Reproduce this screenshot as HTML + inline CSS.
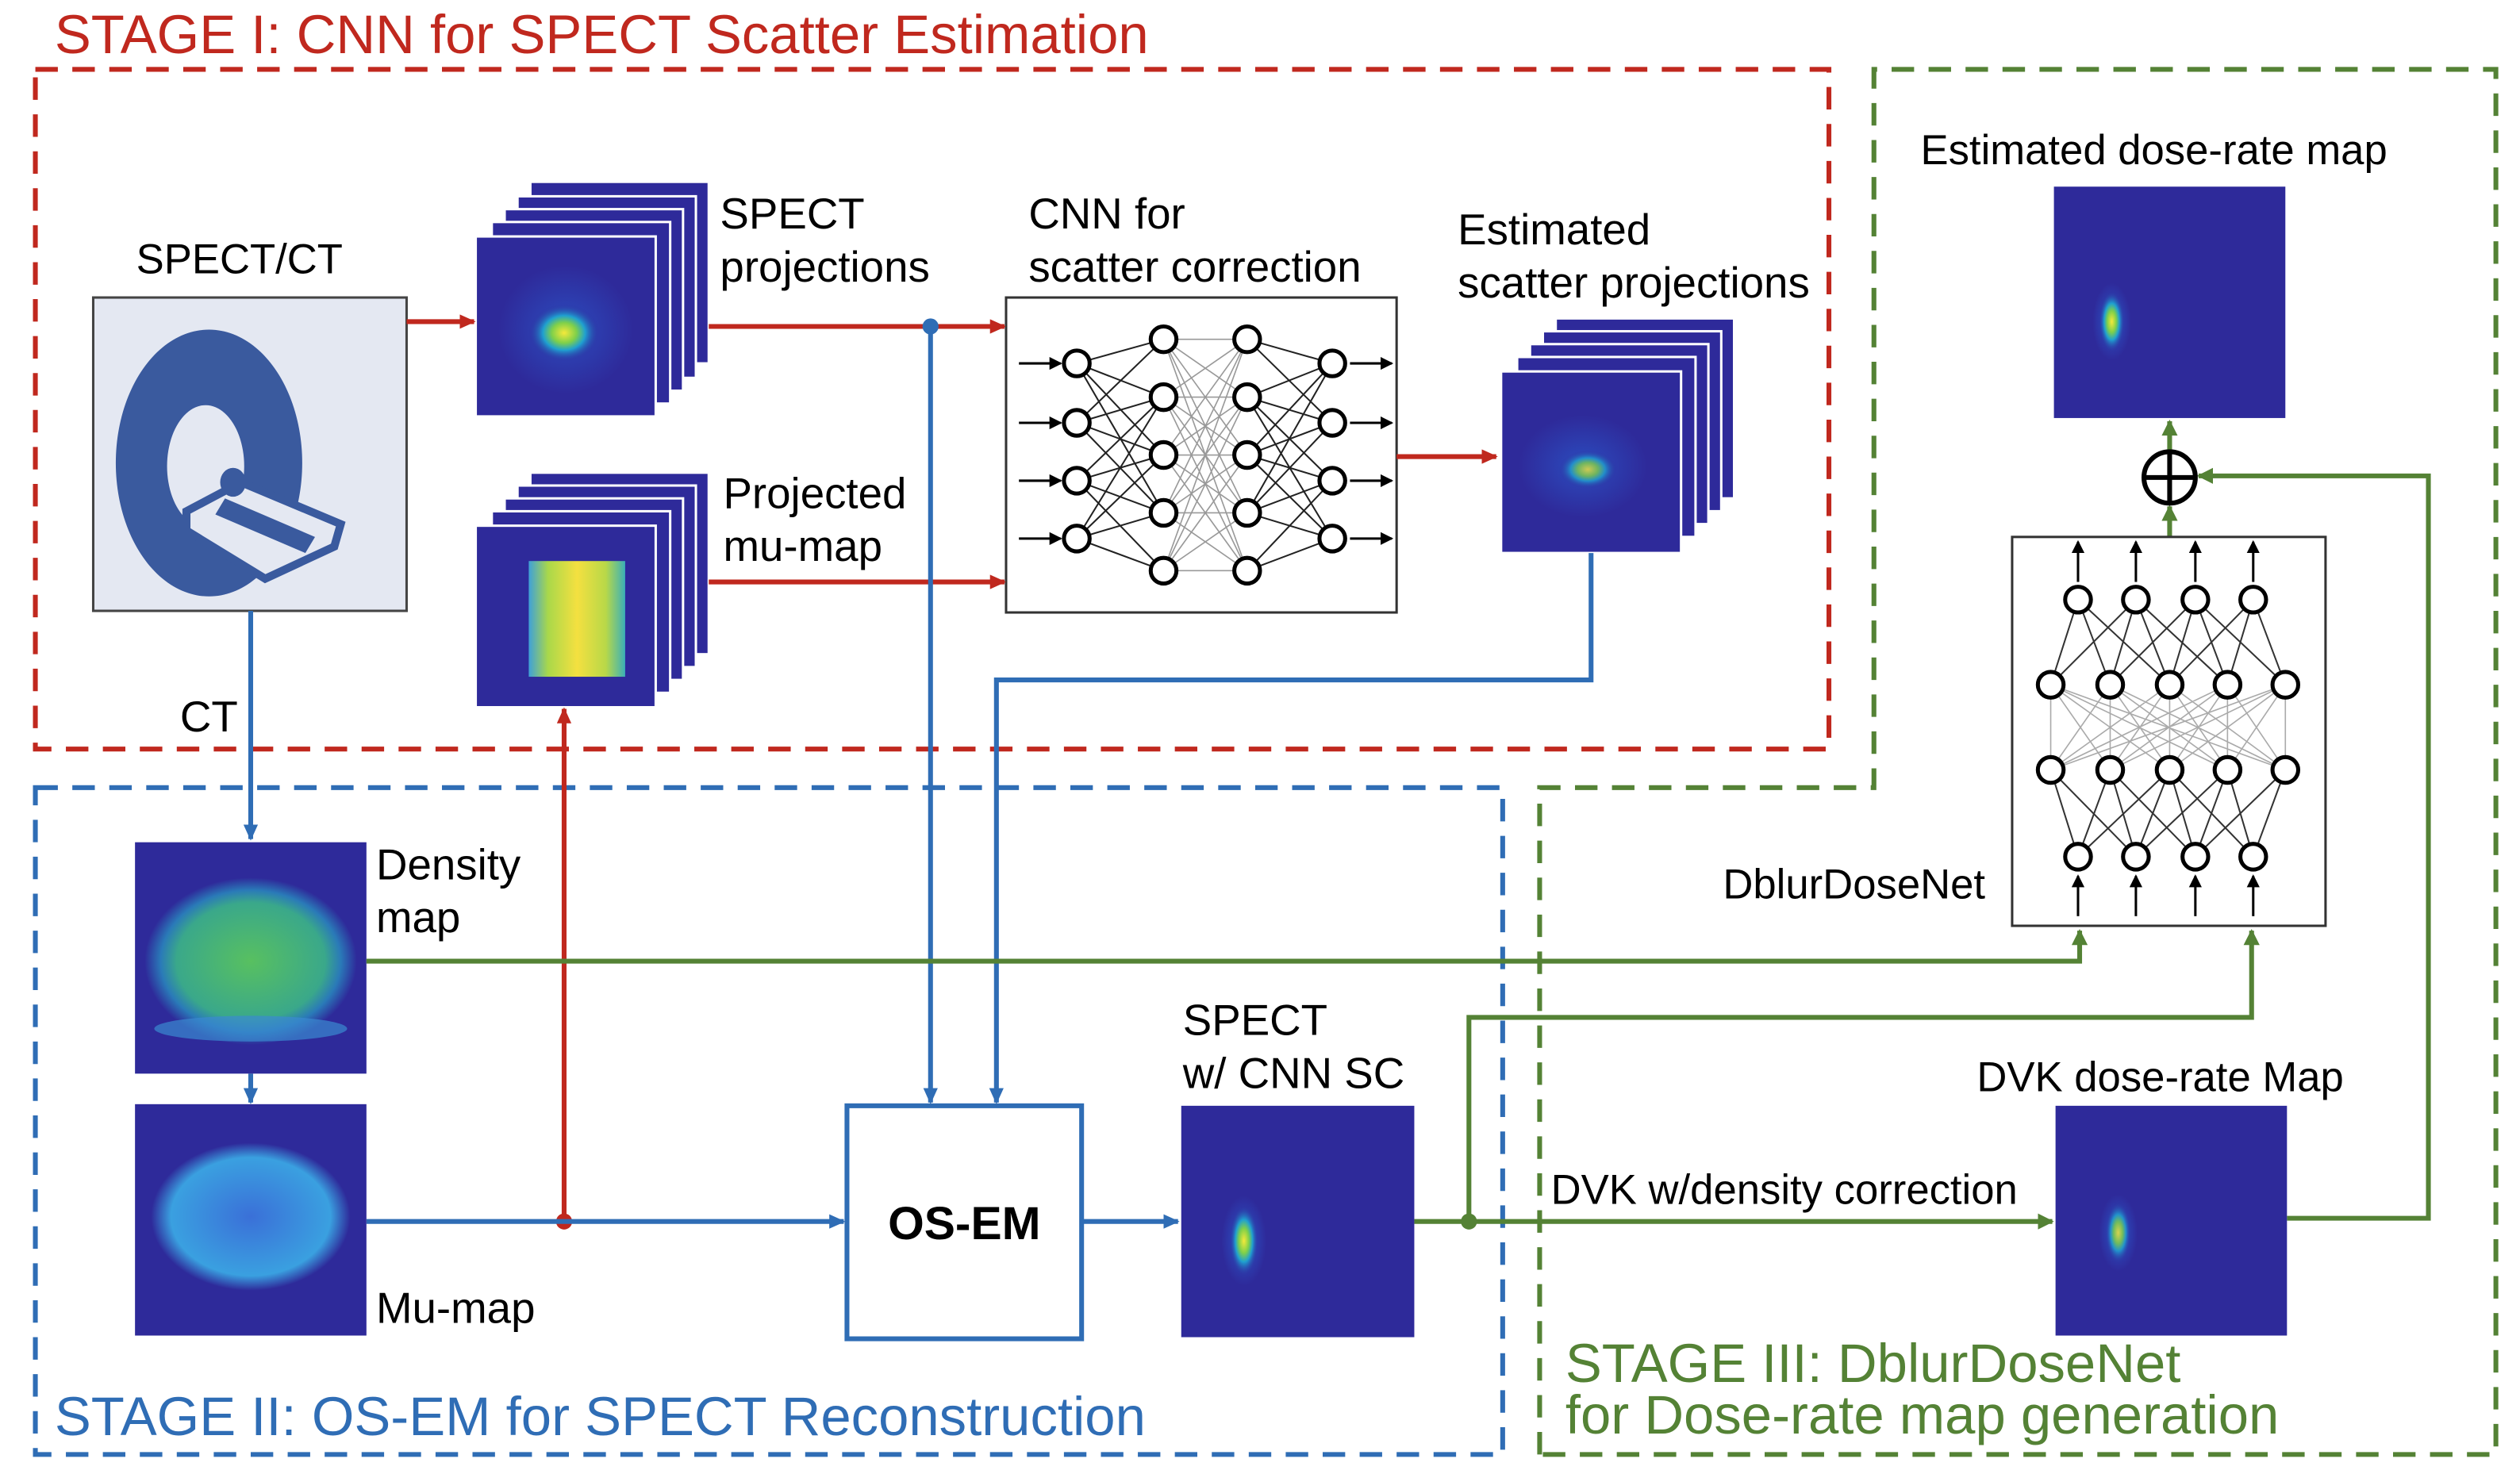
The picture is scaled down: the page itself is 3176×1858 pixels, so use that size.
<!DOCTYPE html>
<html><head><meta charset="utf-8"><style>
html,body{margin:0;padding:0;background:#fff;}
svg{display:block;}
text{font-family:"Liberation Sans",Arial,sans-serif;}
</style></head><body>
<svg width="3176" height="1858" viewBox="0 0 1568 917" xmlns="http://www.w3.org/2000/svg">
<defs>
<marker id="ar" markerWidth="10" markerHeight="9" refX="9" refY="4.5" orient="auto" markerUnits="userSpaceOnUse"><path d="M0,0 L10,4.5 L0,9 z" fill="#c0281e"/></marker>
<marker id="ab" markerWidth="10" markerHeight="9" refX="9" refY="4.5" orient="auto" markerUnits="userSpaceOnUse"><path d="M0,0 L10,4.5 L0,9 z" fill="#2f6db5"/></marker>
<marker id="ag" markerWidth="10" markerHeight="10" refX="9" refY="5" orient="auto" markerUnits="userSpaceOnUse"><path d="M0,0 L10,5 L0,10 z" fill="#548235"/></marker>
<marker id="ak" markerWidth="8" markerHeight="8" refX="7" refY="4" orient="auto" markerUnits="userSpaceOnUse"><path d="M0,0 L8,4 L0,8 z" fill="#000"/></marker>
<radialGradient id="blob"><stop offset="0" stop-color="#f5e93a"/><stop offset="0.35" stop-color="#7fd04a"/><stop offset="0.6" stop-color="#1fa0d0"/><stop offset="1" stop-color="#2e2a9a" stop-opacity="0"/></radialGradient>
<radialGradient id="halo"><stop offset="0" stop-color="#2a63d8"/><stop offset="1" stop-color="#2e2a9a"/></radialGradient>
<linearGradient id="mu" x1="0" x2="1"><stop offset="0" stop-color="#3fa0d8"/><stop offset="0.2" stop-color="#a9d84a"/><stop offset="0.5" stop-color="#f4e040"/><stop offset="0.8" stop-color="#b8d848"/><stop offset="1" stop-color="#3ab0b8"/></linearGradient>
<radialGradient id="dens"><stop offset="0" stop-color="#58c060"/><stop offset="0.7" stop-color="#3aa88a"/><stop offset="0.85" stop-color="#2a7ab8"/><stop offset="1" stop-color="#2e2a9a"/></radialGradient>
<radialGradient id="mum"><stop offset="0" stop-color="#3a70d8"/><stop offset="0.8" stop-color="#3aa0e0"/><stop offset="1" stop-color="#2e2a9a"/></radialGradient>
</defs>

<rect x="22" y="43" width="1116" height="423" fill="none" stroke="#c0281e" stroke-width="3" stroke-dasharray="14,9"/>
<rect x="22" y="490" width="913" height="415" fill="none" stroke="#2f6db5" stroke-width="3" stroke-dasharray="14,9"/>
<path d="M958,905 L958,490 L1166,490 L1166,43 L1553,43 L1553,905 Z" fill="none" stroke="#548235" stroke-width="3" stroke-dasharray="14,9"/>
<text x="34" y="33" font-size="34" fill="#c0281e">STAGE I: CNN for SPECT Scatter Estimation</text>
<text x="34" y="893" font-size="34" fill="#2f6db5">STAGE II: OS-EM for SPECT Reconstruction</text>
<text x="974" y="860" font-size="34" fill="#548235">STAGE III: DblurDoseNet</text>
<text x="974" y="892" font-size="34" fill="#548235">for Dose-rate map generation</text>

<text x="149" y="170" font-size="26" text-anchor="middle">SPECT/CT</text>
<rect x="58" y="185" width="195" height="195" fill="#e4e8f2" stroke="#444" stroke-width="1.5"/>
<path fill-rule="evenodd" fill="#3a5a9e" d="M130,205 a58,83 0 1,0 0.1,0 Z M128,252 a24,38 0 1,1 -0.1,0 Z"/>
<path d="M116,318 L150,300 L212,326 L208,340 L165,360 L116,330 Z" fill="#e4e8f2" stroke="#3a5a9e" stroke-width="5"/>
<ellipse cx="145" cy="300" rx="8" ry="9" fill="#3a5a9e"/>
<path d="M140,310 L196,334 L190,344 L134,320 Z" fill="#3a5a9e"/>

<g stroke="#fff" stroke-width="1.5" fill="#2e2a9a">
<rect x="330" y="113" width="111" height="113"/>
<rect x="322" y="122" width="111" height="113"/>
<rect x="314" y="130" width="111" height="113"/>
<rect x="306" y="138" width="111" height="113"/>
<rect x="296" y="147" width="112" height="112"/>
</g>
<rect x="310" y="165" width="84" height="80" fill="url(#halo)" opacity="0.6"/>
<ellipse cx="351" cy="207" rx="22" ry="18" fill="url(#blob)"/>
<text x="448" y="142" font-size="27">SPECT</text>
<text x="448" y="175" font-size="27">projections</text>

<g stroke="#fff" stroke-width="1.5" fill="#2e2a9a">
<rect x="330" y="294" width="111" height="113"/>
<rect x="322" y="302" width="111" height="113"/>
<rect x="314" y="310" width="111" height="113"/>
<rect x="306" y="318" width="111" height="113"/>
<rect x="296" y="327" width="112" height="113"/>
</g>
<rect x="329" y="349" width="60" height="72" fill="url(#mu)"/>
<text x="450" y="316" font-size="27">Projected</text>
<text x="450" y="349" font-size="27">mu-map</text>

<text x="640" y="142" font-size="27">CNN for</text>
<text x="640" y="175" font-size="27">scatter correction</text>
<rect x="626" y="185" width="243" height="196" fill="#fff" stroke="#333" stroke-width="1.5"/>
<g stroke-width="1">
<g stroke="#222">
<path d="M670,226 L724,211 M670,226 L724,247 M670,226 L724,283 M670,263 L724,211 M670,263 L724,247 M670,263 L724,283 M670,263 L724,319 M670,299 L724,247 M670,299 L724,283 M670,299 L724,319 M670,299 L724,355 M670,335 L724,283 M670,335 L724,319 M670,335 L724,355 M670,226 L724,319 M670,335 L724,247"/>
<path d="M829,226 L776,211 M829,226 L776,247 M829,226 L776,283 M829,263 L776,211 M829,263 L776,247 M829,263 L776,283 M829,263 L776,319 M829,299 L776,247 M829,299 L776,283 M829,299 L776,319 M829,299 L776,355 M829,335 L776,283 M829,335 L776,319 M829,335 L776,355 M829,226 L776,319 M829,335 L776,247"/>
</g>
<g stroke="#999" stroke-width="0.8">
<path d="M724,211 L776,211 M724,211 L776,247 M724,211 L776,283 M724,211 L776,319 M724,211 L776,355 M724,247 L776,211 M724,247 L776,247 M724,247 L776,283 M724,247 L776,319 M724,247 L776,355 M724,283 L776,211 M724,283 L776,247 M724,283 L776,283 M724,283 L776,319 M724,283 L776,355 M724,319 L776,211 M724,319 L776,247 M724,319 L776,283 M724,319 L776,319 M724,319 L776,355 M724,355 L776,211 M724,355 L776,247 M724,355 L776,283 M724,355 L776,319 M724,355 L776,355"/>
</g>
<g fill="#fff" stroke="#000" stroke-width="2.5">
<circle cx="670" cy="226" r="8"/><circle cx="670" cy="263" r="8"/><circle cx="670" cy="299" r="8"/><circle cx="670" cy="335" r="8"/>
<circle cx="724" cy="211" r="8"/><circle cx="724" cy="247" r="8"/><circle cx="724" cy="283" r="8"/><circle cx="724" cy="319" r="8"/><circle cx="724" cy="355" r="8"/>
<circle cx="776" cy="211" r="8"/><circle cx="776" cy="247" r="8"/><circle cx="776" cy="283" r="8"/><circle cx="776" cy="319" r="8"/><circle cx="776" cy="355" r="8"/>
<circle cx="829" cy="226" r="8"/><circle cx="829" cy="263" r="8"/><circle cx="829" cy="299" r="8"/><circle cx="829" cy="335" r="8"/>
</g>
<g stroke="#000" stroke-width="1.5" marker-end="url(#ak)">
<path d="M634,226 L660,226"/><path d="M634,263 L660,263"/><path d="M634,299 L660,299"/><path d="M634,335 L660,335"/>
<path d="M840,226 L866,226"/><path d="M840,263 L866,263"/><path d="M840,299 L866,299"/><path d="M840,335 L866,335"/>
</g>
</g>

<g stroke="#fff" stroke-width="1.5" fill="#2e2a9a">
<rect x="968" y="198" width="111" height="112"/>
<rect x="960" y="206" width="111" height="112"/>
<rect x="952" y="214" width="111" height="112"/>
<rect x="944" y="222" width="111" height="112"/>
<rect x="934" y="231" width="112" height="113"/>
</g>
<ellipse cx="985" cy="290" rx="40" ry="32" fill="url(#halo)" opacity="0.6"/>
<ellipse cx="988" cy="292" rx="18" ry="12" fill="url(#blob)" opacity="0.8"/>
<text x="907" y="152" font-size="27">Estimated</text>
<text x="907" y="185" font-size="27">scatter projections</text>

<g stroke="#c0281e" stroke-width="3" fill="none" marker-end="url(#ar)">
<path d="M253,200 L295,200"/>
<path d="M441,203 L625,203"/>
<path d="M441,362 L625,362"/>
<path d="M869,284 L931,284"/>
<path d="M351,760 L351,441"/>
</g>
<circle cx="351" cy="760" r="5" fill="#c0281e"/>

<g stroke="#2f6db5" stroke-width="3" fill="none" marker-end="url(#ab)">
<path d="M579,203 L579,686"/>
<path d="M990,344 L990,423 L620,423 L620,686"/>
<path d="M156,380 L156,522"/>
<path d="M156,668 L156,686"/>
<path d="M228,760 L525,760"/>
<path d="M673,760 L733,760"/>
</g>
<circle cx="579" cy="203" r="5" fill="#2f6db5"/>
<text x="112" y="455" font-size="27">CT</text>

<rect x="84" y="524" width="144" height="144" fill="#2e2a9a"/>
<ellipse cx="156" cy="598" rx="66" ry="52" fill="url(#dens)"/>
<ellipse cx="156" cy="640" rx="60" ry="8" fill="#3a8ad0" opacity="0.7"/>
<text x="234" y="547" font-size="27">Density</text>
<text x="234" y="580" font-size="27">map</text>

<rect x="84" y="687" width="144" height="144" fill="#2e2a9a"/>
<ellipse cx="156" cy="757" rx="62" ry="46" fill="url(#mum)"/>
<text x="234" y="823" font-size="27">Mu-map</text>

<rect x="527" y="688" width="146" height="145" fill="#fff" stroke="#2f6db5" stroke-width="3"/>
<text x="600" y="771" font-size="29" font-weight="bold" text-anchor="middle">OS-EM</text>

<rect x="735" y="688" width="145" height="144" fill="#2e2a9a"/>
<ellipse cx="774" cy="772" rx="14" ry="28" fill="url(#halo)" opacity="0.8"/>
<ellipse cx="774" cy="772" rx="9" ry="22" fill="url(#blob)"/>
<text x="736" y="644" font-size="27">SPECT</text>
<text x="736" y="677" font-size="27">w/ CNN SC</text>

<g stroke="#548235" stroke-width="3" fill="none" marker-end="url(#ag)">
<path d="M880,760 L1277,760"/>
<path d="M914,760 L914,633 L1401,633 L1401,579"/>
<path d="M228,598 L1294,598 L1294,579"/>
<path d="M1423,758 L1511,758 L1511,296 L1368,296"/>
<path d="M1350,334 L1350,315"/>
<path d="M1350,280 L1350,262"/>
</g>
<circle cx="914" cy="760" r="5" fill="#548235"/>
<text x="965" y="749" font-size="26">DVK w/density correction</text>

<rect x="1279" y="688" width="144" height="143" fill="#2e2a9a"/>
<ellipse cx="1318" cy="767" rx="12" ry="24" fill="url(#halo)" opacity="0.8"/>
<ellipse cx="1318" cy="767" rx="8" ry="19" fill="url(#blob)" opacity="0.85"/>
<text x="1230" y="679" font-size="26">DVK dose-rate Map</text>

<circle cx="1350" cy="297" r="16" fill="#fff" stroke="#000" stroke-width="3"/>
<path d="M1334,297 L1366,297 M1350,281 L1350,313" stroke="#000" stroke-width="3"/>

<rect x="1278" y="116" width="144" height="144" fill="#2e2a9a"/>
<ellipse cx="1314" cy="200" rx="12" ry="24" fill="url(#halo)" opacity="0.8"/>
<ellipse cx="1314" cy="200" rx="8" ry="19" fill="url(#blob)"/>
<text x="1195" y="102" font-size="26">Estimated dose-rate map</text>

<text x="1072" y="559" font-size="26">DblurDoseNet</text>
<rect x="1252" y="334" width="195" height="242" fill="#fff" stroke="#333" stroke-width="1.5"/>
<g stroke="#333" stroke-width="1">
<path d="M1293,373 L1276,426 M1293,373 L1313,426 M1293,373 L1350,426 M1329,373 L1276,426 M1329,373 L1313,426 M1329,373 L1350,426 M1329,373 L1386,426 M1366,373 L1313,426 M1366,373 L1350,426 M1366,373 L1386,426 M1366,373 L1422,426 M1402,373 L1350,426 M1402,373 L1386,426 M1402,373 L1422,426"/>
<path d="M1293,533 L1276,479 M1293,533 L1313,479 M1293,533 L1350,479 M1329,533 L1276,479 M1329,533 L1313,479 M1329,533 L1350,479 M1329,533 L1386,479 M1366,533 L1313,479 M1366,533 L1350,479 M1366,533 L1386,479 M1366,533 L1422,479 M1402,533 L1350,479 M1402,533 L1386,479 M1402,533 L1422,479"/>
</g>
<g stroke="#aaa" stroke-width="0.8">
<path d="M1276,426 L1276,479 M1276,426 L1313,479 M1276,426 L1350,479 M1276,426 L1386,479 M1276,426 L1422,479 M1313,426 L1276,479 M1313,426 L1313,479 M1313,426 L1350,479 M1313,426 L1386,479 M1313,426 L1422,479 M1350,426 L1276,479 M1350,426 L1313,479 M1350,426 L1350,479 M1350,426 L1386,479 M1350,426 L1422,479 M1386,426 L1276,479 M1386,426 L1313,479 M1386,426 L1350,479 M1386,426 L1386,479 M1386,426 L1422,479 M1422,426 L1276,479 M1422,426 L1313,479 M1422,426 L1350,479 M1422,426 L1386,479 M1422,426 L1422,479"/>
</g>
<g fill="#fff" stroke="#000" stroke-width="2.5">
<circle cx="1293" cy="373" r="8"/><circle cx="1329" cy="373" r="8"/><circle cx="1366" cy="373" r="8"/><circle cx="1402" cy="373" r="8"/>
<circle cx="1276" cy="426" r="8"/><circle cx="1313" cy="426" r="8"/><circle cx="1350" cy="426" r="8"/><circle cx="1386" cy="426" r="8"/><circle cx="1422" cy="426" r="8"/>
<circle cx="1276" cy="479" r="8"/><circle cx="1313" cy="479" r="8"/><circle cx="1350" cy="479" r="8"/><circle cx="1386" cy="479" r="8"/><circle cx="1422" cy="479" r="8"/>
<circle cx="1293" cy="533" r="8"/><circle cx="1329" cy="533" r="8"/><circle cx="1366" cy="533" r="8"/><circle cx="1402" cy="533" r="8"/>
</g>
<g stroke="#000" stroke-width="1.5" marker-end="url(#ak)">
<path d="M1293,362 L1293,337"/><path d="M1329,362 L1329,337"/><path d="M1366,362 L1366,337"/><path d="M1402,362 L1402,337"/>
<path d="M1293,570 L1293,545"/><path d="M1329,570 L1329,545"/><path d="M1366,570 L1366,545"/><path d="M1402,570 L1402,545"/>
</g>
</svg>
</body></html>
